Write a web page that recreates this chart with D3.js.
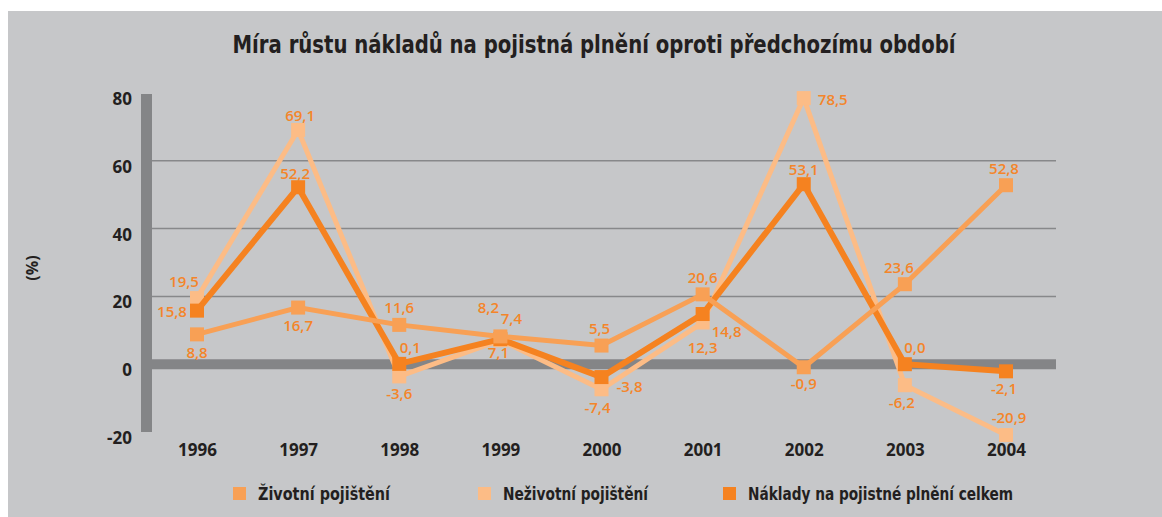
<!DOCTYPE html>
<html>
<head>
<meta charset="utf-8">
<script src="https://cdn.jsdelivr.net/npm/d3@7"></script>
<style>
  body { margin: 0; background: #fff; }
  svg { display: block; }
</style>
</head>
<body>
<script>
// data
var years = ["1996", "1997", "1998", "1999", "2000", "2001", "2002", "2003", "2004"];
var zivotni = [8.8, 16.7, 11.6, 8.2, 5.5, 20.6, -0.9, 23.6, 52.8];
var nezivotni = [19.5, 69.1, -3.6, 7.1, -7.4, 12.3, 78.5, -6.2, -20.9];
var celkem = [15.8, 52.2, 0.1, 7.4, -3.8, 14.8, 53.1, 0.0, -2.1];
var yTicks = [-20, 0, 20, 40, 60, 80];
var seriesNames = ["Životní pojištění", "Neživotní pojištění", "Náklady na pojistné plnění celkem"];

// where each value label sits relative to its point
var labelOffZivotni = [[0,18],[0,18],[0,-17],[-12,-29],[-2,-17],[0,-17],[0,16],[-6,-16],[-2,-16]];
var labelOffNezivotni = [[-13,-16],[2,-14],[0,17],[-2,13],[-4,18],[0,25],[29,2],[-3,18],[3,-17]];
var labelOffCelkem = [[-25,1],[-3,-13],[11,-16],[11,-20],[28,10],[24,18],[0,-14],[10,-16],[-2,17]];

var w = 1162;
var h = 517;

var svg = d3.select("body")
            .append("svg")
            .attr("width", w)
            .attr("height", h);

svg.append("rect")
   .attr("x", 8).attr("y", 11)
   .attr("width", w - 8).attr("height", h - 11)
   .attr("fill", "#c6c7c9");

var x = d3.scalePoint().domain(years).range([197, 1006]);
var y = d3.scaleLinear().domain([-20, 80]).range([432, 93]);

var plotLeft = 152, plotRight = 1056;
var condensed = "'Liberation Sans Narrow', 'DejaVu Sans Condensed', 'Open Sans', sans-serif";
var labelFont = "'Open Sans', 'DejaVu Sans', sans-serif";
var fmt = d => d3.format(".1f")(d).replace(".", ",").replace("−", "-");

// title
svg.append("text")
   .attr("x", 594).attr("y", 53)
   .attr("text-anchor", "middle")
   .attr("font-family", condensed)
   .attr("font-weight", "bold")
   .attr("font-size", "24px")
   .attr("fill", "#231f20")
   .attr("textLength", 723)
   .attr("lengthAdjust", "spacingAndGlyphs")
   .text("Míra růstu nákladů na pojistná plnění oproti předchozímu období");

// grid lines
svg.selectAll("line.grid")
   .data(yTicks.filter(d => d > 0 && d < 80))
   .enter()
   .append("line")
   .attr("class", "grid")
   .attr("x1", plotLeft).attr("x2", plotRight)
   .attr("y1", d => y(d)).attr("y2", d => y(d))
   .attr("stroke", "#87888a")
   .attr("stroke-width", 1.5);

// zero band and vertical axis bar
svg.append("line")
   .attr("x1", plotLeft).attr("x2", plotRight)
   .attr("y1", y(0)).attr("y2", y(0))
   .attr("stroke", "#848587")
   .attr("stroke-width", 10);

svg.append("line")
   .attr("x1", 146.5).attr("x2", 146.5)
   .attr("y1", y(80) + 1).attr("y2", y(-20))
   .attr("stroke", "#848587")
   .attr("stroke-width", 11);

// y axis labels
var yAxis = d3.axisLeft(y).tickValues(yTicks).tickSize(0).tickPadding(0)
   .tickFormat(d => String(d));
var yg = svg.append("g").attr("transform", "translate(132,6)").call(yAxis);
yg.select(".domain").remove();
yg.selectAll("text")
  .attr("font-family", labelFont)
  .attr("font-weight", 700)
  .attr("font-size", "17px")
  .attr("fill", "#231f20");

// x axis labels
var xAxis = d3.axisBottom(x).tickSize(0).tickPadding(0);
var xg = svg.append("g").attr("transform", "translate(0,444)").call(xAxis);
xg.select(".domain").remove();
xg.selectAll("text")
  .attr("font-family", labelFont)
  .attr("font-weight", 700)
  .attr("font-size", "17px")
  .attr("fill", "#231f20");

// y axis title
svg.append("text")
   .attr("transform", "translate(38,268) rotate(-90)")
   .attr("text-anchor", "middle")
   .attr("font-family", labelFont)
   .attr("font-weight", 700)
   .attr("font-size", "16px")
   .attr("fill", "#231f20")
   .text("(%)");

var series = [
  { values: nezivotni, color: "#fcbc86", width: 5, offs: labelOffNezivotni },
  { values: celkem, color: "#f58220", width: 6, offs: labelOffCelkem },
  { values: zivotni, color: "#f8a055", width: 5, offs: labelOffZivotni }
];

var line = d3.line()
   .x((d, i) => x(years[i]))
   .y(d => y(d));

series.forEach(function(s) {
  svg.append("path")
     .datum(s.values)
     .attr("d", line)
     .attr("fill", "none")
     .attr("stroke", s.color)
     .attr("stroke-width", s.width)
     .attr("stroke-linejoin", "miter");

  svg.append("g")
     .selectAll("rect")
     .data(s.values)
     .enter()
     .append("rect")
     .attr("x", (d, i) => x(years[i]) - 7)
     .attr("y", d => y(d) - 7)
     .attr("width", 14)
     .attr("height", 14)
     .attr("fill", s.color);
});

// value labels on top
series.forEach(function(s) {
  svg.append("g")
     .selectAll("text")
     .data(s.values)
     .enter()
     .append("text")
     .attr("x", (d, i) => x(years[i]) + s.offs[i][0])
     .attr("y", (d, i) => y(d) + s.offs[i][1])
     .attr("dy", "0.35em")
     .attr("text-anchor", "middle")
     .attr("font-family", labelFont)
     .attr("font-weight", 600)
     .attr("font-size", "15px")
     .attr("fill", "#f4852a")
     .text(fmt);
});

// legend
var legendX = [233, 478, 723];
var legendColors = ["#f8a055", "#fcbc86", "#f58220"];
var legendWidths = [132, 145, 265];

var lg = svg.selectAll("g.legend")
   .data(seriesNames)
   .enter()
   .append("g")
   .attr("class", "legend")
   .attr("transform", (d, i) => "translate(" + legendX[i] + ",487)");

lg.append("rect")
  .attr("width", 13).attr("height", 13)
  .attr("fill", (d, i) => legendColors[i]);

lg.append("text")
  .attr("x", 25).attr("y", 13)
  .attr("font-family", condensed)
  .attr("font-weight", "bold")
  .attr("font-size", "17px")
  .attr("fill", "#231f20")
  .attr("textLength", (d, i) => legendWidths[i])
  .attr("lengthAdjust", "spacingAndGlyphs")
  .text(d => d);
</script>
</body>
</html>
